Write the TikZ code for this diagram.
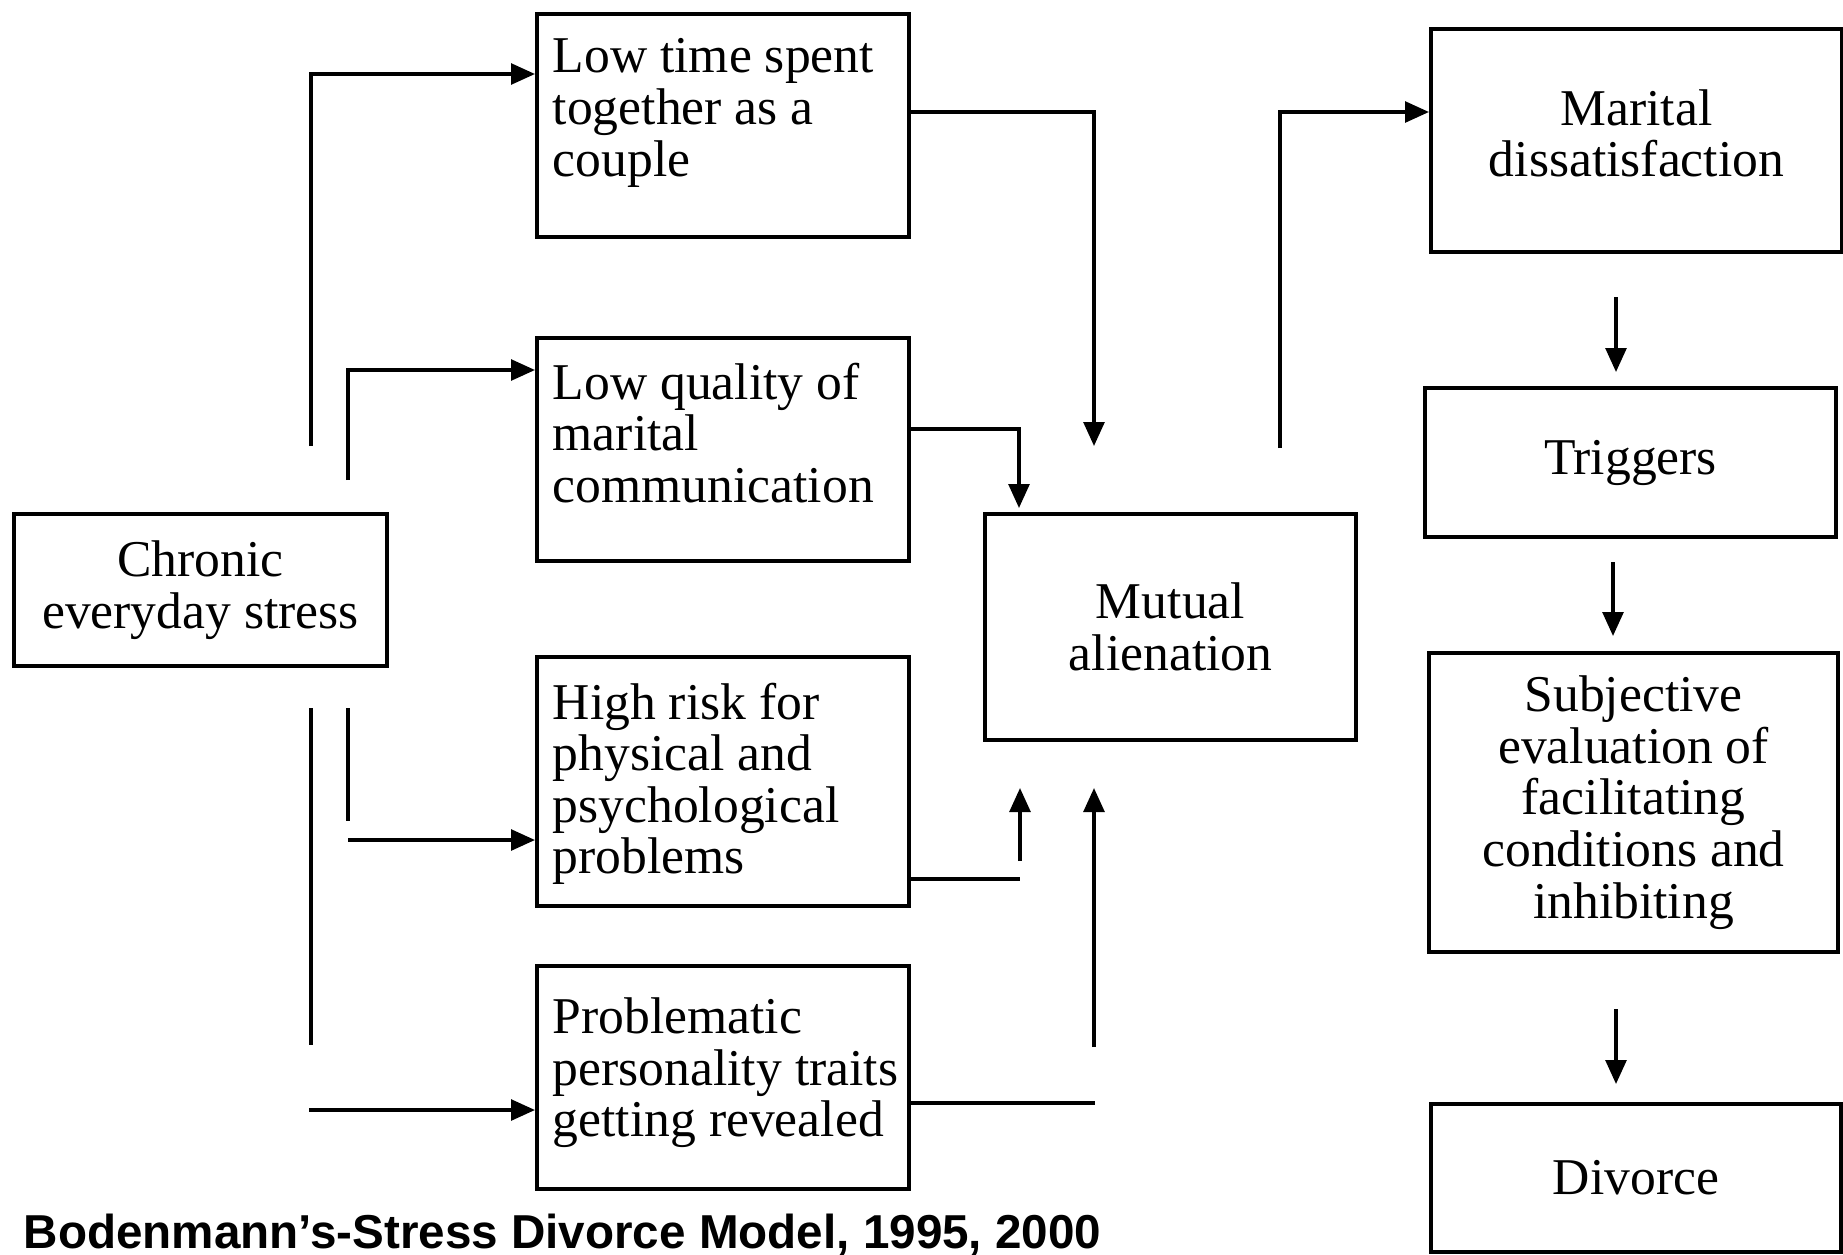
\documentclass[tikz,border=0pt]{standalone}
\usepackage{fontspec}
\setmainfont{Liberation Serif}
\newfontfamily\capfont{Liberation Sans}
\usetikzlibrary{arrows.meta,calc}
\begin{document}
\begin{tikzpicture}[x=0.25pt,y=-0.25pt,
  box/.style={draw, line width=1pt, inner sep=0pt, anchor=north west},
  ltxt/.style={anchor=north west, inner sep=0pt, align=left, font=\fontsize{12.9}{12.9}\selectfont},
  ctxt/.style={align=center, inner sep=0pt, font=\fontsize{12.9}{12.9}\selectfont},
  conn/.style={line width=0.85pt},
  arr/.style={conn, -{Triangle[length=6pt,width=5.2pt]}},
]
\useasboundingbox (0,0) rectangle (1843,1254);

% boxes
\node[box, minimum width=93.25pt, minimum height=38pt] (chronic) at (12,512) {};
\node[box, minimum width=93pt, minimum height=55.75pt] (lowtime) at (535,12) {};
\node[box, minimum width=93pt, minimum height=55.75pt] (lowqual) at (535,336) {};
\node[box, minimum width=93pt, minimum height=62.25pt] (highrisk) at (535,655) {};
\node[box, minimum width=93pt, minimum height=55.75pt] (problem) at (535,964) {};
\node[box, minimum width=92.75pt, minimum height=56.5pt] (mutual) at (983,512) {};
\node[box, minimum width=102.75pt, minimum height=55.75pt] (marital) at (1429,27) {};
\node[box, minimum width=102.75pt, minimum height=37.25pt] (triggers) at (1423,386) {};
\node[box, minimum width=102.25pt, minimum height=74.75pt] (subjective) at (1427,651) {};
\node[box, minimum width=102.5pt, minimum height=37pt] (divorce) at (1429,1102) {};

% texts
\node[ctxt] (chronicT) at (chronic) {Chronic\\everyday stress};
\node[ltxt] (lowtimeT) at (552,38) {Low time spent\\together as a\\couple};
\node[ltxt] (lowqualT) at (552,362) {Low quality of\\marital\\communication};
\node[ltxt] (highriskT) at (552,682) {High risk for\\physical and\\psychological\\problems};
\node[ltxt] (problemT) at (552,997) {Problematic\\personality traits\\getting revealed};
\node[ctxt] (mutualT) at (mutual) {Mutual\\alienation};
\node[ctxt] (maritalT) at ($(marital)+(0,-7)$) {Marital\\dissatisfaction};
\node[ctxt] (triggersT) at (triggers) {Triggers};
\node[ctxt] (subjectiveT) at (subjective) {Subjective\\evaluation of\\facilitating\\conditions and\\inhibiting};
\node[ctxt] (divorceT) at (divorce) {Divorce};

% connectors from chronic stress
\coordinate (a1) at (311,446);
\coordinate (t1) at (311,74);
\draw[arr] (a1) -- (t1) -- (t1 -| lowtime.west);
\coordinate (a2) at (348,480);
\coordinate (t2) at (348,370);
\draw[arr] (a2) -- (t2) -- (t2 -| lowqual.west);
\coordinate (a3s) at (348,708);
\coordinate (a3e) at (348,821);
\draw[conn] (a3s) -- (a3e);
\coordinate (a3) at (348,840);
\draw[arr] (a3) -- (a3 -| highrisk.west);
\coordinate (a4s) at (311,708);
\coordinate (a4e) at (311,1045);
\draw[conn] (a4s) -- (a4e);
\coordinate (a4) at (309,1110);
\draw[arr] (a4) -- (a4 -| problem.west);

% into mutual alienation
\coordinate (b1k) at (1094,112);
\coordinate (b1) at (1094,446);
\draw[arr] (b1k -| lowtime.east) -- (b1k) -- (b1);
\coordinate (b2k) at (1019,429);
\draw[arr, shorten >=1pt] (b2k -| lowqual.east) -- (b2k) -- (b2k |- mutual.north);
\coordinate (d1) at (1020,879);
\draw[conn] (d1 -| highrisk.east) -- (d1);
\coordinate (d1s) at (1020,861);
\coordinate (d1e) at (1020,788);
\draw[arr] (d1s) -- (d1e);
\coordinate (d2) at (1095,1103);
\draw[conn] (d2 -| problem.east) -- (d2);
\coordinate (d2s) at (1094,1047);
\coordinate (d2e) at (1094,788);
\draw[arr] (d2s) -- (d2e);

% mutual to marital dissatisfaction
\coordinate (c1) at (1280,448);
\coordinate (c1k) at (1280,112);
\draw[arr] (c1) -- (c1k) -- (c1k -| marital.west);

% right column
\coordinate (m1s) at (1616,297);
\coordinate (m1e) at (1616,372);
\draw[arr] (m1s) -- (m1e);
\coordinate (m2s) at (1613,562);
\coordinate (m2e) at (1613,636);
\draw[arr] (m2s) -- (m2e);
\coordinate (m3s) at (1616,1009);
\coordinate (m3e) at (1616,1084);
\draw[arr] (m3s) -- (m3e);

% caption
\node[anchor=base west, inner sep=0pt, font=\capfont\bfseries\fontsize{11.9}{12}\selectfont] (cap) at (23,1248) {Bodenmann’s-Stress Divorce Model, 1995, 2000};
\end{tikzpicture}
\end{document}
